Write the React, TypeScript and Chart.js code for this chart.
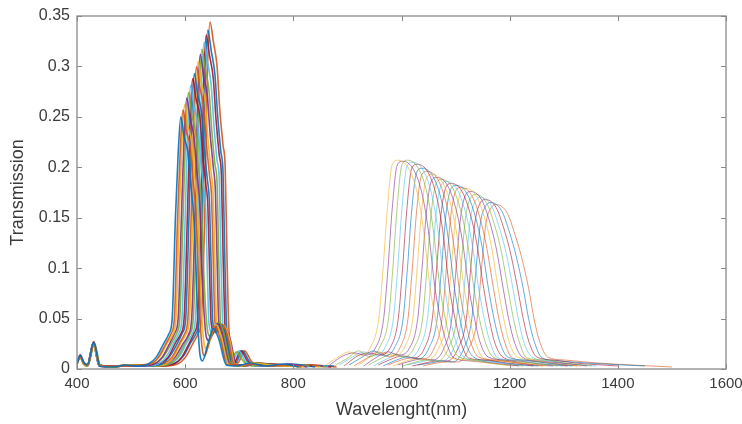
import React, { useEffect, useRef } from "react";
import { Chart, registerables } from "chart.js";

Chart.register(...registerables);

// Axis ticks
const X_TICKS = [400, 600, 800, 1000, 1200, 1400, 1600];
const Y_TICKS = [0, 0.05, 0.1, 0.15, 0.2, 0.25, 0.3, 0.35];

// ---- Visible band (left cluster): [wavelength nm, transmission] ----
const L01 = [[400,0.005],[406,0.013],[413,0.006],[419,0.004],[431,0.026],[442,0.003],[465,0.002],[490,0.004],[512,0.003],[532,0.005],[547,0.012],[560,0.025],[570,0.035],[576,0.05],[582,0.15],[587,0.213],[592,0.25],[598,0.23],[605,0.215],[610,0.185],[616,0.15],[620,0.1],[624,0.04],[628,0.012],[632,0.008],[642,0.025],[652,0.04],[662,0.03],[676,0.004],[695,0.003],[720,0.006],[750,0.003],[780,0.005],[810,0.002]];
const L02 = [[400,0.006],[406,0.012],[413,0.005],[420,0.004],[431,0.025],[443,0.003],[468,0.003],[492,0.003],[515,0.004],[536,0.005],[551,0.012],[564,0.025],[574,0.035],[580,0.05],[586,0.15],[591,0.218],[596,0.257],[602,0.236],[609,0.221],[614,0.19],[620,0.154],[624,0.1],[628,0.045],[632,0.018],[636,0.013],[646,0.03],[655,0.042],[665,0.03],[678,0.004],[698,0.004],[722,0.005],[752,0.003],[785,0.004],[815,0.002]];
const L03 = [[400,0.004],[405,0.012],[412,0.005],[419,0.003],[430,0.024],[441,0.004],[462,0.002],[488,0.004],[518,0.004],[539,0.006],[554,0.013],[567,0.026],[577,0.034],[583,0.05],[589,0.15],[594,0.223],[599,0.262],[605,0.241],[612,0.225],[617,0.194],[623,0.157],[627,0.1],[631,0.05],[635,0.025],[640,0.02],[649,0.034],[657,0.044],[667,0.032],[680,0.005],[700,0.003],[724,0.006],[755,0.004],[790,0.003],[820,0.002]];
const L04 = [[400,0.006],[406,0.014],[413,0.006],[419,0.004],[431,0.027],[442,0.003],[466,0.003],[494,0.003],[520,0.003],[543,0.005],[558,0.012],[571,0.025],[581,0.036],[587,0.05],[593,0.15],[598,0.229],[603,0.269],[609,0.248],[616,0.231],[621,0.2],[627,0.162],[631,0.1],[635,0.055],[639,0.032],[644,0.028],[652,0.036],[660,0.045],[669,0.033],[682,0.005],[702,0.004],[726,0.005],[758,0.003],[792,0.005],[825,0.002]];
const L05 = [[400,0.005],[406,0.012],[412,0.005],[420,0.003],[432,0.025],[443,0.004],[470,0.002],[495,0.004],[522,0.004],[546,0.006],[561,0.013],[574,0.025],[584,0.035],[590,0.05],[596,0.15],[601,0.233],[606,0.274],[612,0.252],[619,0.236],[624,0.203],[630,0.164],[634,0.1],[638,0.058],[642,0.036],[647,0.032],[655,0.038],[663,0.046],[672,0.034],[684,0.006],[704,0.003],[728,0.006],[760,0.004],[795,0.003],[830,0.003]];
const L06 = [[400,0.006],[405,0.013],[413,0.006],[419,0.004],[430,0.026],[442,0.003],[464,0.003],[491,0.003],[524,0.003],[550,0.005],[565,0.012],[578,0.025],[588,0.035],[594,0.05],[600,0.15],[605,0.239],[610,0.281],[616,0.261],[623,0.244],[628,0.211],[634,0.18],[638,0.157],[641,0.098],[644,0.045],[650,0.036],[658,0.045],[668,0.032],[680,0.004],[700,0.004],[725,0.005],[755,0.003],[790,0.004],[830,0.002]];
const L07 = [[400,0.005],[406,0.012],[413,0.005],[420,0.004],[431,0.026],[442,0.004],[467,0.002],[493,0.004],[528,0.004],[554,0.006],[569,0.012],[582,0.026],[592,0.035],[598,0.05],[604,0.15],[609,0.245],[614,0.288],[620,0.268],[627,0.251],[632,0.216],[638,0.184],[642,0.161],[645,0.1],[648,0.046],[654,0.037],[662,0.046],[672,0.033],[684,0.005],[704,0.003],[727,0.006],[758,0.004],[792,0.003],[835,0.003]];
const L08 = [[400,0.006],[406,0.013],[412,0.006],[419,0.003],[430,0.025],[441,0.003],[463,0.003],[490,0.003],[530,0.003],[557,0.005],[572,0.013],[585,0.025],[595,0.036],[601,0.05],[607,0.15],[612,0.249],[617,0.293],[623,0.272],[630,0.255],[635,0.22],[641,0.188],[645,0.164],[648,0.103],[651,0.047],[657,0.036],[665,0.045],[675,0.032],[687,0.004],[706,0.004],[729,0.005],[760,0.003],[796,0.005],[840,0.002]];
const L09 = [[400,0.005],[405,0.012],[413,0.006],[420,0.004],[431,0.024],[443,0.003],[469,0.002],[496,0.004],[533,0.004],[561,0.006],[576,0.012],[589,0.025],[599,0.035],[605,0.05],[611,0.15],[616,0.255],[621,0.3],[627,0.279],[634,0.261],[639,0.225],[645,0.192],[649,0.168],[652,0.105],[655,0.047],[661,0.037],[669,0.044],[679,0.031],[690,0.005],[708,0.003],[731,0.006],[763,0.004],[800,0.003],[845,0.003]];
const L10 = [[400,0.006],[406,0.013],[413,0.005],[419,0.004],[431,0.027],[442,0.004],[466,0.003],[492,0.003],[536,0.003],[564,0.005],[579,0.012],[592,0.026],[602,0.035],[608,0.05],[614,0.15],[619,0.259],[624,0.305],[630,0.284],[637,0.265],[642,0.229],[648,0.195],[652,0.171],[655,0.107],[658,0.046],[664,0.036],[672,0.043],[682,0.03],[692,0.005],[710,0.004],[733,0.005],[766,0.003],[803,0.004],[850,0.002]];
const L11 = [[400,0.005],[406,0.012],[412,0.005],[420,0.003],[430,0.026],[441,0.003],[461,0.002],[489,0.004],[540,0.004],[568,0.006],[583,0.013],[596,0.025],[606,0.034],[612,0.05],[618,0.15],[623,0.265],[628,0.312],[634,0.29],[641,0.271],[646,0.234],[652,0.2],[656,0.175],[659,0.109],[662,0.047],[668,0.035],[675,0.04],[684,0.028],[694,0.005],[712,0.003],[735,0.006],[768,0.004],[806,0.003],[855,0.003]];
const L12 = [[400,0.006],[405,0.013],[413,0.006],[419,0.004],[431,0.025],[442,0.003],[467,0.003],[494,0.003],[543,0.003],[571,0.005],[586,0.012],[599,0.025],[609,0.035],[615,0.05],[621,0.15],[626,0.269],[631,0.317],[637,0.298],[644,0.276],[649,0.238],[655,0.203],[659,0.184],[662,0.111],[665,0.048],[670,0.02],[675,0.01],[682,0.006],[695,0.017],[707,0.008],[725,0.003],[750,0.005],[780,0.003],[815,0.004],[860,0.002]];
const L13 = [[400,0.005],[406,0.012],[413,0.005],[420,0.004],[432,0.026],[443,0.004],[468,0.002],[497,0.004],[547,0.004],[575,0.006],[590,0.013],[603,0.026],[613,0.035],[619,0.05],[625,0.15],[630,0.275],[635,0.324],[641,0.305],[648,0.282],[653,0.243],[659,0.207],[663,0.188],[666,0.113],[669,0.049],[674,0.02],[679,0.01],[686,0.006],[699,0.018],[711,0.008],[729,0.003],[754,0.004],[784,0.004],[820,0.003],[865,0.003]];
const L14 = [[400,0.006],[406,0.013],[412,0.006],[419,0.003],[430,0.026],[441,0.003],[464,0.003],[491,0.003],[551,0.003],[579,0.005],[594,0.012],[607,0.025],[617,0.036],[623,0.05],[629,0.15],[634,0.281],[639,0.331],[645,0.311],[652,0.288],[657,0.248],[663,0.212],[667,0.192],[670,0.116],[673,0.05],[678,0.021],[683,0.01],[690,0.006],[703,0.018],[715,0.008],[733,0.003],[758,0.005],[788,0.003],[825,0.004],[870,0.002]];
const L15 = [[400,0.005],[405,0.012],[413,0.006],[420,0.004],[431,0.024],[442,0.004],[470,0.002],[495,0.004],[554,0.004],[582,0.006],[597,0.013],[610,0.026],[620,0.035],[626,0.05],[632,0.15],[637,0.286],[642,0.336],[648,0.316],[655,0.292],[660,0.252],[666,0.215],[670,0.195],[673,0.118],[676,0.05],[681,0.02],[686,0.01],[693,0.006],[706,0.018],[718,0.008],[736,0.003],[762,0.004],[792,0.004],[830,0.003],[875,0.003]];
const L16 = [[400,0.006],[406,0.013],[413,0.005],[419,0.004],[431,0.027],[442,0.003],[466,0.003],[493,0.003],[558,0.003],[586,0.005],[601,0.012],[614,0.025],[624,0.035],[630,0.05],[636,0.15],[641,0.293],[646,0.344],[652,0.325],[659,0.3],[664,0.257],[670,0.222],[674,0.2],[677,0.12],[680,0.05],[685,0.02],[690,0.01],[697,0.006],[710,0.018],[722,0.008],[740,0.003],[766,0.005],[796,0.003],[835,0.004],[880,0.002]];

// ---- Near-infrared band (right cluster) ----
const R01 = [[858,0.003],[883,0.012],[903,0.017],[923,0.013],[943,0.022],[958,0.05],[966,0.1],[974,0.16],[983,0.203],[993,0.207],[1013,0.199],[1028,0.177],[1040,0.141],[1053,0.08],[1063,0.05],[1073,0.028],[1088,0.012],[1118,0.009],[1158,0.006],[1208,0.003]];
const R02 = [[867,0.004],[892,0.013],[912,0.016],[932,0.014],[952,0.021],[967,0.05],[975,0.1],[983,0.16],[992,0.202],[1002,0.206],[1022,0.198],[1037,0.176],[1049,0.14],[1062,0.08],[1072,0.05],[1082,0.028],[1097,0.011],[1127,0.008],[1167,0.006],[1217,0.003]];
const R03 = [[876,0.003],[901,0.011],[921,0.018],[941,0.012],[961,0.023],[976,0.05],[984,0.1],[992,0.161],[1001,0.203],[1011,0.207],[1031,0.199],[1046,0.177],[1058,0.141],[1071,0.081],[1081,0.05],[1091,0.027],[1106,0.012],[1136,0.009],[1176,0.005],[1226,0.003]];
const R04 = [[885,0.004],[910,0.012],[930,0.017],[950,0.013],[970,0.022],[985,0.05],[993,0.1],[1001,0.16],[1010,0.201],[1020,0.205],[1040,0.197],[1055,0.175],[1067,0.139],[1080,0.08],[1090,0.05],[1100,0.028],[1115,0.012],[1145,0.008],[1185,0.006],[1235,0.003]];
const R05 = [[894,0.003],[919,0.013],[939,0.016],[959,0.014],[979,0.021],[994,0.05],[1002,0.1],[1010,0.159],[1019,0.199],[1029,0.203],[1049,0.195],[1064,0.173],[1076,0.138],[1089,0.079],[1099,0.05],[1109,0.028],[1124,0.011],[1154,0.009],[1194,0.006],[1244,0.003]];
const R06 = [[903,0.004],[928,0.012],[948,0.018],[968,0.013],[988,0.022],[1003,0.05],[1011,0.1],[1019,0.158],[1028,0.195],[1038,0.199],[1058,0.191],[1073,0.169],[1085,0.135],[1098,0.08],[1108,0.05],[1118,0.027],[1133,0.012],[1163,0.008],[1203,0.005],[1253,0.003]];
const R07 = [[912,0.003],[937,0.011],[957,0.017],[977,0.012],[997,0.021],[1012,0.05],[1020,0.1],[1028,0.157],[1037,0.192],[1047,0.196],[1067,0.188],[1082,0.166],[1094,0.133],[1107,0.079],[1117,0.05],[1127,0.028],[1142,0.012],[1172,0.009],[1212,0.006],[1262,0.003]];
const R08 = [[921,0.004],[946,0.013],[966,0.016],[986,0.013],[1006,0.022],[1021,0.05],[1029,0.1],[1037,0.156],[1046,0.189],[1056,0.193],[1076,0.185],[1091,0.163],[1103,0.131],[1116,0.08],[1126,0.05],[1136,0.028],[1151,0.011],[1181,0.008],[1221,0.006],[1271,0.003]];
const R09 = [[930,0.003],[955,0.012],[975,0.017],[995,0.014],[1015,0.021],[1030,0.05],[1038,0.1],[1046,0.155],[1055,0.186],[1065,0.19],[1085,0.182],[1100,0.16],[1112,0.129],[1125,0.079],[1135,0.05],[1145,0.027],[1160,0.012],[1190,0.009],[1230,0.005],[1280,0.003]];
const R10 = [[939,0.004],[964,0.011],[984,0.015],[1004,0.012],[1024,0.022],[1039,0.05],[1047,0.1],[1055,0.155],[1064,0.184],[1074,0.188],[1094,0.18],[1109,0.158],[1121,0.128],[1134,0.08],[1144,0.05],[1154,0.028],[1169,0.012],[1199,0.008],[1239,0.006],[1289,0.003]];
const R11 = [[948,0.003],[973,0.01],[993,0.014],[1013,0.011],[1033,0.021],[1048,0.05],[1056,0.1],[1064,0.154],[1073,0.182],[1083,0.186],[1103,0.178],[1118,0.156],[1130,0.126],[1143,0.079],[1153,0.05],[1163,0.028],[1178,0.011],[1208,0.009],[1248,0.006],[1298,0.003]];
const R12 = [[957,0.004],[982,0.01],[1002,0.013],[1022,0.011],[1042,0.02],[1057,0.05],[1065,0.1],[1073,0.153],[1082,0.18],[1092,0.184],[1112,0.176],[1127,0.154],[1139,0.125],[1152,0.08],[1162,0.05],[1172,0.027],[1187,0.012],[1217,0.008],[1257,0.005],[1307,0.003]];
const R13 = [[966,0.003],[991,0.009],[1011,0.012],[1031,0.01],[1051,0.021],[1066,0.05],[1074,0.1],[1082,0.152],[1091,0.178],[1101,0.182],[1121,0.174],[1136,0.152],[1148,0.124],[1161,0.079],[1171,0.05],[1181,0.028],[1196,0.012],[1226,0.009],[1266,0.006],[1316,0.003]];
const R14 = [[975,0.004],[1000,0.009],[1020,0.011],[1040,0.01],[1060,0.02],[1075,0.05],[1083,0.1],[1091,0.151],[1100,0.176],[1110,0.18],[1130,0.172],[1145,0.15],[1157,0.122],[1170,0.08],[1180,0.05],[1190,0.028],[1205,0.011],[1235,0.008],[1275,0.006],[1325,0.003]];
const R15 = [[984,0.003],[1009,0.008],[1029,0.01],[1049,0.009],[1069,0.021],[1084,0.05],[1092,0.1],[1100,0.15],[1109,0.175],[1119,0.179],[1139,0.171],[1154,0.149],[1166,0.122],[1179,0.079],[1189,0.05],[1199,0.027],[1214,0.012],[1244,0.009],[1284,0.005],[1334,0.003]];
const R16 = [[993,0.004],[1018,0.008],[1038,0.01],[1058,0.009],[1078,0.02],[1093,0.05],[1101,0.1],[1109,0.149],[1118,0.172],[1128,0.176],[1148,0.168],[1163,0.146],[1175,0.12],[1188,0.08],[1198,0.05],[1208,0.028],[1223,0.012],[1253,0.008],[1293,0.006],[1343,0.003]];
const R17 = [[1002,0.003],[1027,0.007],[1047,0.009],[1067,0.008],[1087,0.021],[1102,0.05],[1110,0.1],[1118,0.148],[1127,0.169],[1137,0.173],[1157,0.165],[1172,0.143],[1184,0.118],[1197,0.079],[1207,0.05],[1217,0.028],[1232,0.011],[1262,0.009],[1302,0.006],[1352,0.003]];
const R18 = [[1011,0.004],[1036,0.007],[1056,0.009],[1076,0.008],[1096,0.02],[1111,0.05],[1119,0.1],[1127,0.147],[1136,0.166],[1146,0.17],[1166,0.162],[1181,0.14],[1193,0.116],[1206,0.08],[1216,0.05],[1226,0.027],[1241,0.012],[1271,0.008],[1311,0.005],[1361,0.003]];
const R19 = [[1020,0.003],[1045,0.006],[1065,0.008],[1085,0.008],[1105,0.021],[1120,0.05],[1128,0.1],[1136,0.146],[1145,0.164],[1155,0.168],[1175,0.16],[1190,0.138],[1202,0.114],[1215,0.079],[1225,0.05],[1235,0.028],[1250,0.012],[1280,0.009],[1320,0.006],[1400,0.003]];
const R20 = [[1030,0.004],[1055,0.006],[1075,0.008],[1095,0.007],[1115,0.02],[1130,0.05],[1138,0.1],[1146,0.145],[1155,0.161],[1165,0.165],[1185,0.157],[1200,0.135],[1212,0.112],[1225,0.08],[1235,0.05],[1245,0.028],[1260,0.011],[1290,0.008],[1340,0.006],[1450,0.003]];
const R21 = [[1040,0.003],[1065,0.006],[1085,0.007],[1105,0.007],[1125,0.021],[1140,0.05],[1148,0.1],[1156,0.144],[1165,0.159],[1175,0.163],[1195,0.155],[1210,0.133],[1222,0.111],[1235,0.08],[1245,0.05],[1255,0.028],[1270,0.012],[1300,0.009],[1360,0.006],[1500,0.002]];

const LEFT_CURVES = [L01, L02, L03, L04, L05, L06, L07, L08, L09, L10, L11, L12, L13, L14, L15, L16];
const RIGHT_CURVES = [R01, R02, R03, R04, R05, R06, R07, R08, R09, R10, R11, R12, R13, R14, R15, R16, R17, R18, R19, R20, R21];

const PALETTE = [
  [0, 114, 189],
  [217, 83, 25],
  [237, 177, 32],
  [126, 47, 142],
  [119, 172, 48],
  [77, 190, 238],
  [162, 20, 47],
];

const FONT = "'Liberation Sans', Arial, Helvetica, sans-serif";

const framePlugin = {
  id: "matlabFrame",
  afterDraw(chart: any) {
    const { ctx, chartArea, scales } = chart;
    const { left, right, top, bottom } = chartArea;
    const xs = scales.x;
    const ys = scales.y;
    ctx.save();
    ctx.strokeStyle = "#8a8a8a";
    ctx.lineWidth = 1.3;
    ctx.strokeRect(left, top, right - left, bottom - top);
    const len = 5;
    ctx.beginPath();
    xs.ticks.forEach((t: any) => {
      const px = Math.round(xs.getPixelForValue(t.value)) + 0.5;
      ctx.moveTo(px, bottom);
      ctx.lineTo(px, bottom - len);
      ctx.moveTo(px, top);
      ctx.lineTo(px, top + len);
    });
    ys.ticks.forEach((t: any) => {
      const py = Math.round(ys.getPixelForValue(t.value)) + 0.5;
      ctx.moveTo(left, py);
      ctx.lineTo(left + len, py);
      ctx.moveTo(right, py);
      ctx.lineTo(right - len, py);
    });
    ctx.lineWidth = 1;
    ctx.stroke();
    ctx.restore();
  },
};

export default function App() {
  const ref = useRef<HTMLCanvasElement | null>(null);

  useEffect(() => {
    document.body.style.margin = "0";
    if (!ref.current) return;
    const datasets: any[] = [];
    let ci = 0;
    const addCurve = (pts: number[][], alpha: number, width: number) => {
      const c = PALETTE[ci % PALETTE.length];
      ci++;
      datasets.push({
        data: pts.map((p) => ({ x: p[0], y: p[1] })),
        borderColor: `rgba(${c[0]},${c[1]},${c[2]},${alpha})`,
        borderWidth: width,
        pointRadius: 0,
        fill: false,
        cubicInterpolationMode: "monotone",
      });
    };
    LEFT_CURVES.forEach((c) => addCurve(c, 0.9, 1.6));
    RIGHT_CURVES.forEach((c) => addCurve(c, 0.6, 1));

    const chart = new Chart(ref.current, {
      type: "line",
      data: { datasets },
      options: {
        animation: false,
        responsive: false,
        maintainAspectRatio: false,
        devicePixelRatio: 1,
        parsing: false,
        normalized: true,
        layout: { padding: { top: 16, right: 16, left: 0, bottom: 0 } },
        plugins: { legend: { display: false }, tooltip: { enabled: false } },
        scales: {
          x: {
            type: "linear",
            min: X_TICKS[0],
            max: X_TICKS[X_TICKS.length - 1],
            afterBuildTicks: (s: any) => {
              s.ticks = X_TICKS.map((v) => ({ value: v }));
            },
            afterFit: (s: any) => {
              s.height = 55;
              s.paddingLeft = 0;
              s.paddingRight = 0;
            },
            grid: { display: false, drawTicks: false },
            border: { display: false },
            ticks: {
              padding: 6,
              color: "#3a3a3a",
              font: { size: 15, family: FONT },
              callback: (v: any) => String(v),
              maxRotation: 0,
            },
            title: {
              display: true,
              text: "Wavelenght(nm)",
              color: "#3a3a3a",
              font: { size: 18, family: FONT },
              padding: { top: 0, bottom: 3 },
            },
          },
          y: {
            type: "linear",
            min: Y_TICKS[0],
            max: Y_TICKS[Y_TICKS.length - 1],
            afterBuildTicks: (s: any) => {
              s.ticks = Y_TICKS.map((v) => ({ value: v }));
            },
            afterFit: (s: any) => {
              s.width = 77;
              s.paddingTop = 0;
              s.paddingBottom = 0;
            },
            grid: { display: false, drawTicks: false },
            border: { display: false },
            ticks: {
              padding: 7,
              color: "#3a3a3a",
              font: { size: 16, family: FONT },
              callback: (v: any) => String(+Number(v).toFixed(2)),
            },
            title: {
              display: true,
              text: "Transmission",
              color: "#3a3a3a",
              font: { size: 18, family: FONT },
              padding: { top: 7, bottom: 0 },
            },
          },
        },
      },
      plugins: [framePlugin],
    });
    return () => chart.destroy();
  }, []);

  return (
    <div style={{ position: "absolute", left: 0, top: 0, width: 742, height: 424, background: "#fff" }}>
      <canvas ref={ref} width={742} height={424} style={{ display: "block" }} />
    </div>
  );
}
